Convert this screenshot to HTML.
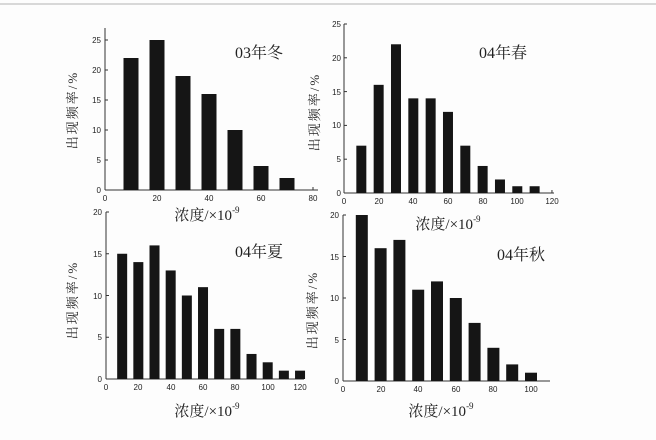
<!DOCTYPE html>
<html><head><meta charset="utf-8"><style>
body{margin:0;background:#fdfdfd;}
svg{display:block;font-family:"Liberation Sans","Noto Sans CJK SC",sans-serif;}
.t{font-size:8px;fill:#222;}
.cj{font-family:"Liberation Serif","Noto Serif CJK SC",serif;fill:#222;}
.yl{letter-spacing:2px;}
</style></head><body>
<svg id="s" width="656" height="440" viewBox="0 0 656 440">
<rect x="0" y="0" width="656" height="440" fill="#fdfdfd"/>
<rect x="0" y="3" width="656" height="2" fill="#d8d8d8"/>
<g id="g"></g>
<!-- panel 1 -->
<text class="t" x="105" y="201" text-anchor="middle">0</text>
<text class="t" x="157" y="201" text-anchor="middle">20</text>
<text class="t" x="209" y="201" text-anchor="middle">40</text>
<text class="t" x="261" y="201" text-anchor="middle">60</text>
<text class="t" x="313" y="201" text-anchor="middle">80</text>
<text class="t" x="101" y="193" text-anchor="end">0</text>
<text class="t" x="101" y="163" text-anchor="end">5</text>
<text class="t" x="101" y="133" text-anchor="end">10</text>
<text class="t" x="101" y="103" text-anchor="end">15</text>
<text class="t" x="101" y="73" text-anchor="end">20</text>
<text class="t" x="101" y="43" text-anchor="end">25</text>
<text class="cj" x="235" y="58" font-size="16">03年冬</text>
<text class="cj" x="207" y="220" font-size="15" text-anchor="middle">浓度/×10<tspan font-size="9" dy="-7">-9</tspan></text>
<text class="cj yl" font-size="13" transform="translate(77,110) rotate(-90)" text-anchor="middle">出现频率/%</text>
<!-- panel 2 -->
<text class="t" x="344" y="204" text-anchor="middle">0</text>
<text class="t" x="379" y="204" text-anchor="middle">20</text>
<text class="t" x="413" y="204" text-anchor="middle">40</text>
<text class="t" x="448" y="204" text-anchor="middle">60</text>
<text class="t" x="483" y="204" text-anchor="middle">80</text>
<text class="t" x="517" y="204" text-anchor="middle">100</text>
<text class="t" x="552" y="204" text-anchor="middle">120</text>
<text class="t" x="341" y="196" text-anchor="end">0</text>
<text class="t" x="341" y="162" text-anchor="end">5</text>
<text class="t" x="341" y="128" text-anchor="end">10</text>
<text class="t" x="341" y="95" text-anchor="end">15</text>
<text class="t" x="341" y="61" text-anchor="end">20</text>
<text class="t" x="341" y="27" text-anchor="end">25</text>
<text class="cj" x="479" y="58" font-size="16">04年春</text>
<text class="cj" x="448" y="229" font-size="15" text-anchor="middle">浓度/×10<tspan font-size="9" dy="-7">-9</tspan></text>
<text class="cj yl" font-size="13" transform="translate(319,112) rotate(-90)" text-anchor="middle">出现频率/%</text>
<!-- panel 3 -->
<text class="t" x="106" y="390" text-anchor="middle">0</text>
<text class="t" x="138" y="390" text-anchor="middle">20</text>
<text class="t" x="171" y="390" text-anchor="middle">40</text>
<text class="t" x="203" y="390" text-anchor="middle">60</text>
<text class="t" x="235" y="390" text-anchor="middle">80</text>
<text class="t" x="268" y="390" text-anchor="middle">100</text>
<text class="t" x="300" y="390" text-anchor="middle">120</text>
<text class="t" x="102" y="382" text-anchor="end">0</text>
<text class="t" x="102" y="340" text-anchor="end">5</text>
<text class="t" x="102" y="299" text-anchor="end">10</text>
<text class="t" x="102" y="257" text-anchor="end">15</text>
<text class="t" x="102" y="215" text-anchor="end">20</text>
<text class="cj" x="235" y="257" font-size="16">04年夏</text>
<text class="cj" x="207" y="416" font-size="15" text-anchor="middle">浓度/×10<tspan font-size="9" dy="-7">-9</tspan></text>
<text class="cj yl" font-size="13" transform="translate(77,300) rotate(-90)" text-anchor="middle">出现频率/%</text>
<!-- panel 4 -->
<text class="t" x="343" y="392" text-anchor="middle">0</text>
<text class="t" x="381" y="392" text-anchor="middle">20</text>
<text class="t" x="418" y="392" text-anchor="middle">40</text>
<text class="t" x="456" y="392" text-anchor="middle">60</text>
<text class="t" x="493" y="392" text-anchor="middle">80</text>
<text class="t" x="531" y="392" text-anchor="middle">100</text>
<text class="t" x="339" y="384" text-anchor="end">0</text>
<text class="t" x="339" y="343" text-anchor="end">5</text>
<text class="t" x="339" y="301" text-anchor="end">10</text>
<text class="t" x="339" y="260" text-anchor="end">15</text>
<text class="t" x="339" y="218" text-anchor="end">20</text>
<text class="cj" x="497" y="260" font-size="16">04年秋</text>
<text class="cj" x="441" y="416" font-size="15" text-anchor="middle">浓度/×10<tspan font-size="9" dy="-7">-9</tspan></text>
<text class="cj yl" font-size="13" transform="translate(317,310) rotate(-90)" text-anchor="middle">出现频率/%</text>
</svg>
<script>
var P=[
 {x0:105,y0:190,sx:2.6,sy:6,w:15,ymax:27,xend:318,yt:[0,5,10,15,20,25],xt:[0,20,40,60,80],d:[22,25,19,16,10,4,2]},
 {x0:344,y0:193,sx:1.733,sy:6.76,w:10,ymax:25,xend:554,yt:[0,5,10,15,20,25],xt:[0,20,40,60,80,100,120],d:[7,16,22,14,14,12,7,4,2,1,1]},
 {x0:106,y0:379,sx:1.617,sy:8.35,w:10,ymax:20,xend:304,yt:[0,5,10,15,20],xt:[0,20,40,60,80,100,120],d:[15,14,16,13,10,11,6,6,3,2,1,1]},
 {x0:343,y0:381,sx:1.88,sy:8.3,w:12,ymax:20,xend:550,yt:[0,5,10,15,20],xt:[0,20,40,60,80,100],d:[20,16,17,11,12,10,7,4,2,1]}
];
var g=document.getElementById('g'),h='';
P.forEach(function(p){
 h+='<line x1="'+p.x0+'" y1="'+p.y0+'" x2="'+p.xend+'" y2="'+p.y0+'" stroke="#333" stroke-width="1"/>';
 h+='<line x1="'+p.x0+'" y1="'+p.y0+'" x2="'+p.x0+'" y2="'+(p.y0-p.ymax*p.sy)+'" stroke="#333" stroke-width="1"/>';
 p.yt.forEach(function(v){var y=p.y0-v*p.sy;h+='<line x1="'+p.x0+'" y1="'+y+'" x2="'+(p.x0+3)+'" y2="'+y+'" stroke="#333"/>';});
 p.xt.forEach(function(v){var x=p.x0+v*p.sx;h+='<line x1="'+x+'" y1="'+p.y0+'" x2="'+x+'" y2="'+(p.y0-3)+'" stroke="#333"/>';});
 p.d.forEach(function(v,i){var cx=p.x0+(i+1)*10*p.sx;h+='<rect x="'+(cx-p.w/2)+'" y="'+(p.y0-v*p.sy)+'" width="'+p.w+'" height="'+(v*p.sy)+'" fill="#151515"/>';});
});
g.innerHTML=h;
</script>
</body></html>
